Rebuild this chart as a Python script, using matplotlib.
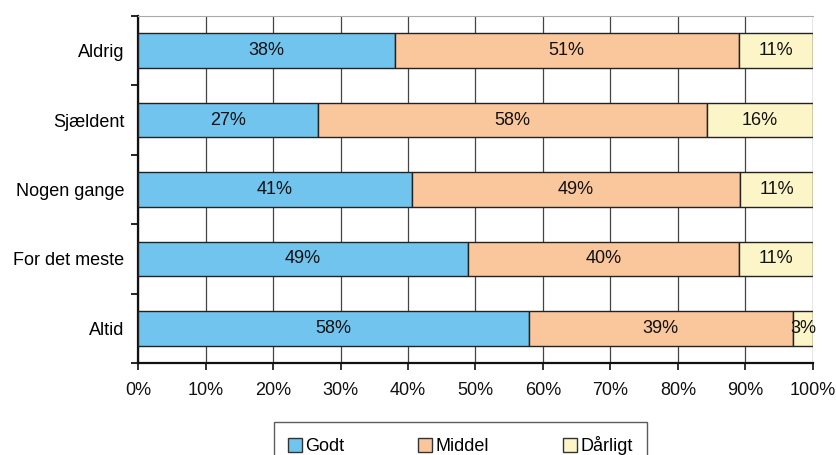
import numpy as np
import matplotlib.pyplot as plt
from matplotlib.ticker import FixedLocator, PercentFormatter

plt.rcParams['font.family'] = ['Liberation Sans', 'DejaVu Sans']

categories = ['Aldrig', 'Sjældent', 'Nogen gange', 'For det meste', 'Altid']
godt = [38.0, 26.7, 40.6, 48.9, 57.9]
middel = [51.0, 57.6, 48.6, 40.1, 39.1]
daarligt = [11.0, 15.7, 10.8, 11.0, 3.0]
series_names = ['Godt', 'Middel', 'Dårligt']
colors = ['#70c4ee', '#fac69b', '#fcf5c8']

fig = plt.figure(figsize=(8.37, 4.55), dpi=100)
ax = fig.add_axes([0.1649, 0.2022, 0.8064, 0.7626])

y = np.arange(len(categories))
left = np.zeros(len(categories))
for name, vals, col in zip(series_names, [godt, middel, daarligt], colors):
    vals = np.array(vals)
    ax.barh(y, vals, left=left, height=0.5, color=col,
            edgecolor='#222222', linewidth=1.0, label=name, zorder=3)
    for yi, l, v in zip(y, left, vals):
        ax.text(l + v / 2, yi, '%d%%' % round(v), ha='center', va='center',
                fontsize=13, color='#111111', zorder=4)
    left += vals

ax.set_xlim(0, 100)
ax.set_ylim(len(categories) - 0.5, -0.5)

# x axis: ticks every 10 %, vertical gridlines
ax.xaxis.set_major_locator(FixedLocator(np.arange(0, 101, 10)))
ax.xaxis.set_major_formatter(PercentFormatter(decimals=0))
ax.grid(axis='x', color='#444444', linewidth=0.9, zorder=0)
ax.tick_params(axis='x', direction='out', length=5, width=1.2,
               labelsize=13, pad=9, colors='#111111')

# y axis: ticks between categories, labels at category centres
ax.set_yticks(np.arange(-0.5, len(categories)), labels=[''] * (len(categories) + 1))
ax.set_yticks(y, labels=categories, minor=True)
ax.tick_params(axis='y', which='major', direction='out', length=5, width=1.2)
ax.tick_params(axis='y', which='minor', length=0, labelsize=13, pad=10)

for side in ['left', 'bottom']:
    ax.spines[side].set_linewidth(1.6)
    ax.spines[side].set_color('#111111')
ax.spines['right'].set_visible(False)
ax.spines['top'].set_color('#aaaaaa')
ax.spines['top'].set_linewidth(0.8)

leg = fig.legend(loc='upper center', bbox_to_anchor=(0.55, 0.073), ncol=3,
                 frameon=True, fancybox=False, fontsize=13, handlelength=0.75,
                 handleheight=0.75, handletextpad=0.2, columnspacing=4.1,
                 borderpad=0.8, borderaxespad=0)
leg.get_frame().set_edgecolor('#333333')
leg.get_frame().set_linewidth(1.0)
for h in leg.legend_handles:
    h.set_edgecolor('#333333')

fig.savefig('out.png', dpi=100)
